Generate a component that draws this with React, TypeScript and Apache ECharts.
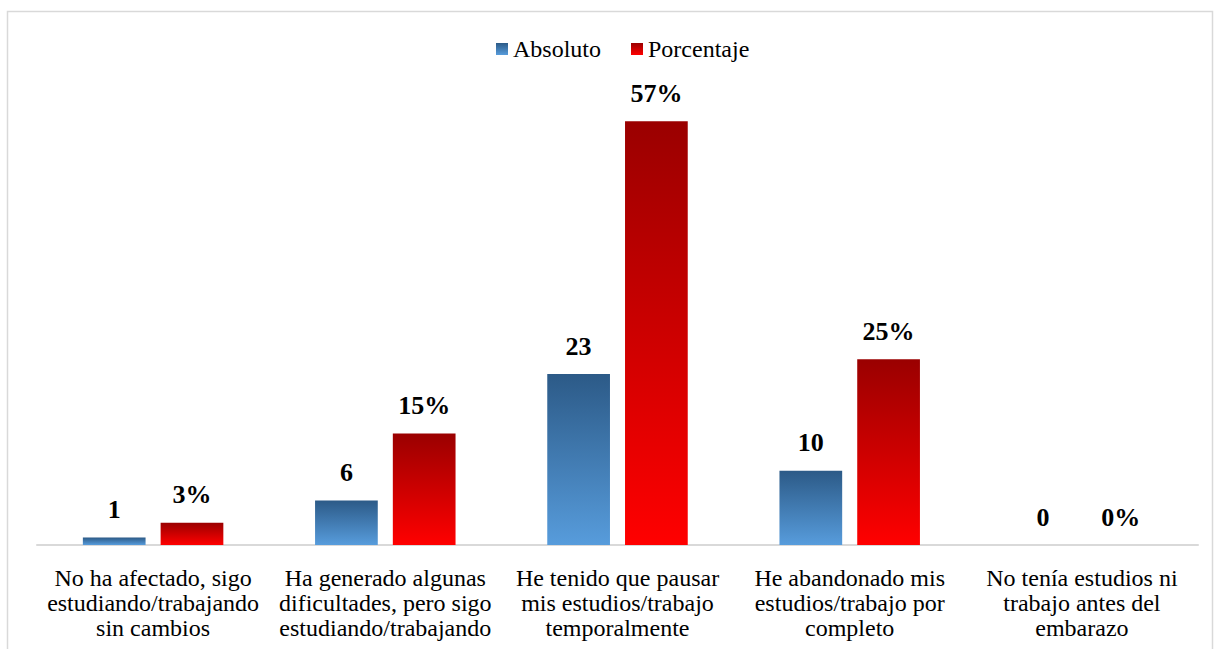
import React, { useEffect, useRef } from "react";
import * as echarts from "echarts";

const categories = [
  "No ha afectado, sigo\nestudiando/trabajando\nsin cambios",
  "Ha generado algunas\ndificultades, pero sigo\nestudiando/trabajando",
  "He tenido que pausar\nmis estudios/trabajo\ntemporalmente",
  "He abandonado mis\nestudios/trabajo por\ncompleto",
  "No tenía estudios ni\ntrabajo antes del\nembarazo",
];
const absoluto = [1, 6, 23, 10, 0];
const porcentaje = [3, 15, 57, 25, 0];

const FONT = "Liberation Serif";

export default function App() {
  const ref = useRef<HTMLDivElement>(null);
  useEffect(() => {
    if (!ref.current) return;
    const chart = echarts.init(ref.current, null, { renderer: "svg" });
    const blue = new echarts.graphic.LinearGradient(0, 0, 0, 1, [
      { offset: 0, color: "#2c5a87" },
      { offset: 1, color: "#579cdc" },
    ]);
    const red = new echarts.graphic.LinearGradient(0, 0, 0, 1, [
      { offset: 0, color: "#9a0000" },
      { offset: 1, color: "#ff0000" },
    ]);
    chart.setOption({
      animation: false,
      backgroundColor: "#ffffff",
      graphic: [
        {
          type: "rect",
          shape: { x: 7.5, y: 11.5, width: 1205, height: 660 },
          style: { fill: "none", stroke: "#d9d9d9", lineWidth: 1.5 },
          silent: true,
        },
      ],
      legend: {
        top: 32,
        left: 491,
        itemWidth: 12,
        itemHeight: 12,
        itemGap: 30,
        icon: "rect",
        textStyle: { fontFamily: FONT, fontSize: 24, color: "#000" },
        data: ["Absoluto", "Porcentaje"],
      },
      grid: { left: 37, right: 17, top: 99, bottom: 104 },
      xAxis: {
        type: "category",
        data: categories,
        axisLine: { lineStyle: { color: "#d9d9d9", width: 2 } },
        axisTick: { show: false },
        axisLabel: {
          interval: 0,
          margin: 20,
          fontFamily: FONT,
          fontSize: 24,
          lineHeight: 25,
          color: "#000",
        },
      },
      yAxis: {
        type: "value",
        min: 0,
        max: 60,
        show: false,
        splitLine: { show: false },
      },
      series: [
        {
          name: "Absoluto",
          type: "bar",
          data: absoluto,
          barGap: "24%",
          barCategoryGap: "39.5%",
          itemStyle: { color: blue },
          label: {
            show: true,
            position: "top",
            distance: 15,
            fontFamily: FONT,
            fontSize: 26,
            fontWeight: "bold",
            color: "#000",
          },
        },
        {
          name: "Porcentaje",
          type: "bar",
          data: porcentaje,
          barGap: "24%",
          barCategoryGap: "39.5%",
          itemStyle: { color: red },
          label: {
            show: true,
            position: "top",
            distance: 15,
            fontFamily: FONT,
            fontSize: 26,
            fontWeight: "bold",
            color: "#000",
            formatter: "{c}%",
          },
        },
      ],
    });
    return () => chart.dispose();
  }, []);
  return (
    <div
      ref={ref}
      style={{ position: "fixed", left: 0, top: 0, width: 1215, height: 649 }}
    />
  );
}
